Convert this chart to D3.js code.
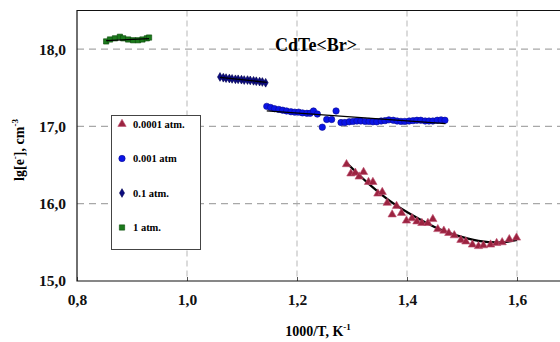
<!DOCTYPE html>
<html>
<head>
<meta charset="utf-8">
<script src="https://cdnjs.cloudflare.com/ajax/libs/d3/7.8.5/d3.min.js"></script>
<style>
  body { margin: 0; background: #fff; }
</style>
</head>
<body>
<div id="my_dataviz"></div>
<script>

var width = 560,
    height = 342
var serif = "'Liberation Serif', 'Times New Roman', Times, serif"

// 0.0001 atm. (triangles)
var x1 = [1.290, 1.298, 1.306, 1.313, 1.321, 1.330, 1.338, 1.347, 1.355, 1.364, 1.373, 1.381, 1.390, 1.399, 1.409, 1.418, 1.427, 1.438, 1.447, 1.456, 1.467, 1.476, 1.486, 1.498, 1.507, 1.519, 1.530, 1.539, 1.552, 1.563, 1.573, 1.586, 1.599]
var y1 = [16.51, 16.39, 16.40, 16.35, 16.41, 16.28, 16.28, 16.13, 16.15, 16.01, 15.86, 15.97, 15.88, 15.78, 15.81, 15.77, 15.75, 15.75, 15.80, 15.67, 15.65, 15.62, 15.59, 15.53, 15.51, 15.47, 15.45, 15.46, 15.47, 15.49, 15.50, 15.54, 15.56]
var fit1 = [[1.290, 16.53], [1.330, 16.26], [1.370, 16.03], [1.410, 15.85], [1.450, 15.70], [1.490, 15.59], [1.530, 15.52], [1.570, 15.50], [1.600, 15.53]]

// 0.001 atm (circles)
var x2 = [1.145, 1.152, 1.159, 1.167, 1.174, 1.181, 1.189, 1.196, 1.203, 1.210, 1.218, 1.224, 1.230, 1.237, 1.246, 1.254, 1.263, 1.271, 1.280, 1.287, 1.295, 1.302, 1.309, 1.316, 1.324, 1.331, 1.338, 1.345, 1.353, 1.360, 1.367, 1.375, 1.382, 1.389, 1.396, 1.404, 1.411, 1.418, 1.425, 1.433, 1.440, 1.447, 1.455, 1.462, 1.469]
var y2 = [17.26, 17.245, 17.23, 17.22, 17.21, 17.20, 17.19, 17.185, 17.185, 17.175, 17.17, 17.17, 17.20, 17.16, 16.99, 17.09, 17.09, 17.20, 17.05, 17.05, 17.06, 17.065, 17.07, 17.07, 17.065, 17.065, 17.06, 17.06, 17.07, 17.075, 17.085, 17.08, 17.07, 17.065, 17.065, 17.07, 17.075, 17.08, 17.08, 17.07, 17.07, 17.07, 17.08, 17.085, 17.08]
var fit2 = [[1.145, 17.20], [1.470, 17.035]]

// 0.1 atm. (diamonds)
var x3 = [1.060, 1.066, 1.071, 1.077, 1.082, 1.088, 1.093, 1.099, 1.104, 1.110, 1.115, 1.121, 1.126, 1.132, 1.137, 1.143]
var y3 = [17.64, 17.63, 17.625, 17.62, 17.615, 17.61, 17.61, 17.605, 17.60, 17.60, 17.595, 17.59, 17.585, 17.58, 17.575, 17.565]
var fit3 = [[1.060, 17.635], [1.145, 17.57]]

// 1 atm. (squares)
var x4 = [0.853, 0.860, 0.869, 0.878, 0.884, 0.893, 0.902, 0.911, 0.919, 0.927, 0.931]
var y4 = [18.10, 18.125, 18.14, 18.16, 18.14, 18.125, 18.115, 18.115, 18.125, 18.14, 18.15]
var fit4 = [[0.853, 18.11], [0.931, 18.135]]

var xTicks = [0.8, 1.0, 1.2, 1.4, 1.6]
var yTicks = [15, 16, 17, 18]
var legendLabels = ["0.0001 atm.", "0.001 atm", "0.1 atm.", "1 atm."]

var svg = d3.select("#my_dataviz")
  .append("svg")
    .attr("width", width)
    .attr("height", height)
    .style("font-family", serif)
    .style("font-weight", "bold")

var x = d3.scaleLinear().domain([0.8, 1.7]).range([77, 572])
var y = d3.scaleLinear().domain([15, 18.5]).range([281, 10.5])

// grid
svg.append("g")
  .selectAll("line")
  .data(xTicks.slice(1))
  .enter()
  .append("line")
    .attr("x1", function(d){ return x(d) })
    .attr("x2", function(d){ return x(d) })
    .attr("y1", y(18.5))
    .attr("y2", y(15))
    .attr("stroke", "#cfcfcf")
    .attr("stroke-width", 1.5)
    .attr("stroke-dasharray", "6,4")

svg.append("g")
  .selectAll("line")
  .data(yTicks.slice(1))
  .enter()
  .append("line")
    .attr("x1", x(0.8))
    .attr("x2", width)
    .attr("y1", function(d){ return y(d) })
    .attr("y2", function(d){ return y(d) })
    .attr("stroke", "#a8a8a8")
    .attr("stroke-width", 1.2)
    .attr("stroke-dasharray", "7,5")

var fmt = function(d){ return d3.format(".1f")(d).replace(".", ",") }

// axes
var xAxis = svg.append("g")
  .attr("transform", "translate(0," + y(15) + ")")
  .call(d3.axisBottom(x).tickValues(xTicks).tickSize(-4).tickPadding(13).tickFormat(fmt))
xAxis.select(".domain").remove()
xAxis.selectAll("line").attr("stroke", "#555")
xAxis.selectAll("text")
  .style("font-family", serif).style("font-weight", "bold")
  .attr("font-size", 15.5).attr("fill", "#111")

var yAxis = svg.append("g")
  .attr("transform", "translate(" + x(0.8) + ",0)")
  .call(d3.axisLeft(y).tickValues(yTicks).tickSize(0).tickPadding(11).tickFormat(fmt))
yAxis.select(".domain").remove()
yAxis.selectAll("text")
  .style("font-family", serif).style("font-weight", "bold")
  .attr("font-size", 15.5).attr("fill", "#111")

// frame
svg.append("path")
  .attr("d", "M" + width + "," + y(18.5) + "H" + x(0.8) + "V" + y(15) + "H" + width)
  .attr("fill", "none")
  .attr("stroke", "#111")
  .attr("stroke-width", 1.2)

// trend lines
var line = d3.line()
  .x(function(d){ return x(d[0]) })
  .y(function(d){ return y(d[1]) })

var fitLines = [fit4, fit3, fit2]

svg.append("path")
  .attr("d", line.curve(d3.curveCatmullRom)(fit1))
  .attr("fill", "none")
  .attr("stroke", "#000")
  .attr("stroke-width", 2.2)

function zip(a, b) { return a.map(function(v, i){ return [v, b[i]] }) }

var sym = [
  {type: d3.symbolTriangle, size: 30, fill: "#9b2340", stroke: "#c05070"},
  {type: d3.symbolCircle, size: 32, fill: "#0a14e6", stroke: "#0a0a90"},
  {type: d3.symbolDiamond, size: 22, fill: "#0b0b80", stroke: "#000050"},
  {type: d3.symbolSquare, size: 28, fill: "#1c7a1c", stroke: "#0a4a0a"}
]

var series = [zip(x1, y1), zip(x2, y2), zip(x3, y3), zip(x4, y4)]

series.forEach(function(s, i) {
  svg.append("g")
    .selectAll("path")
    .data(s)
    .enter()
    .append("path")
      .attr("transform", function(d){ return "translate(" + x(d[0]) + "," + y(d[1]) + ")" })
      .attr("d", d3.symbol().type(sym[i].type).size(sym[i].size))
      .attr("fill", sym[i].fill)
      .attr("stroke", sym[i].stroke)
      .attr("stroke-width", 0.6)
})

// flat fit lines drawn over the points
svg.selectAll(".fit")
  .data(fitLines)
  .enter()
  .append("path")
    .attr("class", "fit")
    .attr("d", line.curve(d3.curveLinear))
    .attr("fill", "none")
    .attr("stroke", "#000")
    .attr("stroke-width", 1.3)

// title
svg.append("text")
  .attr("x", 316)
  .attr("y", 51)
  .attr("text-anchor", "middle")
  .attr("font-size", 18)
  .text("CdTe<Br>")

// legend
var legend = svg.append("g")
legend.append("rect")
  .attr("x", 111.5)
  .attr("y", 115.5)
  .attr("width", 89)
  .attr("height", 134)
  .attr("fill", "#fff")
  .attr("stroke", "#444")
  .attr("stroke-width", 1)

legendLabels.forEach(function(l, i) {
  var ly = 124 + i * 34.5
  legend.append("path")
    .attr("transform", "translate(122," + ly + ")")
    .attr("d", d3.symbol().type(sym[i].type).size(sym[i].size))
    .attr("fill", sym[i].fill)
    .attr("stroke", sym[i].stroke)
    .attr("stroke-width", 0.6)
  legend.append("text")
    .attr("x", 133)
    .attr("y", ly + 3.5)
    .attr("font-size", 10.5)
    .text(l)
})

// axis titles
var xt = svg.append("text")
  .attr("x", 318)
  .attr("y", 336)
  .attr("text-anchor", "middle")
  .attr("font-size", 14)
xt.append("tspan").text("1000/T, K")
xt.append("tspan").attr("dy", -6).attr("font-size", 9).text("-1")

var yt = svg.append("text")
  .attr("transform", "translate(24,150) rotate(-90)")
  .attr("text-anchor", "middle")
  .attr("font-size", 14)
yt.append("tspan").text("lg[e")
yt.append("tspan").attr("dy", -6).attr("font-size", 9).text("-")
yt.append("tspan").attr("dy", 6).text("], cm")
yt.append("tspan").attr("dy", -6).attr("font-size", 9).text("-3")

</script>
</body>
</html>
